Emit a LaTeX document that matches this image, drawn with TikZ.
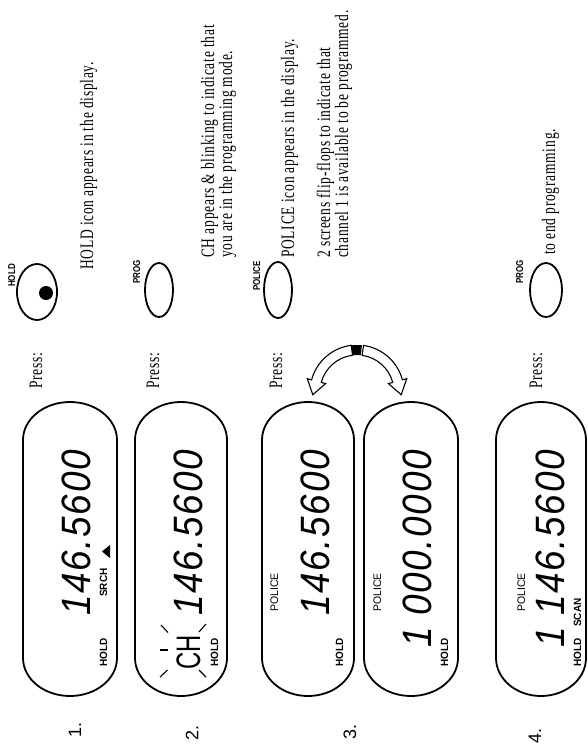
\documentclass[tikz,border=0pt]{standalone}
\usepackage{fontspec}
\setmainfont{Liberation Serif}
\newfontfamily\txtfont[FakeStretch=0.71,LetterSpace=4]{Liberation Serif}
\newfontfamily\lcdfont[FakeStretch=0.95]{Liberation Sans}
\newfontfamily\digfont[FakeStretch=0.9,LetterSpace=4]{Liberation Sans}
\newfontfamily\chfont[FakeStretch=0.7]{Liberation Sans}
\newfontfamily\lblfont[FakeStretch=0.8]{Liberation Sans}
\newfontfamily\numfont{Liberation Sans}
\newcommand\drawpill[2]{%
  \draw[pillline] (#1,-440) arc[start angle=180,end angle=0,x radius={(#2-#1)/2},y radius=38]
    -- (#2,-658) arc[start angle=0,end angle=-180,x radius={(#2-#1)/2},y radius=38] -- cycle;}
\begin{document}
\begin{tikzpicture}[x=1pt,y=1pt,
  pillline/.style={line width=1.8pt},
  btnline/.style={line width=1.8pt},
  arrowline/.style={line width=1.1pt, fill=white},
  blink/.style={line width=1.1pt},
  txt/.style={rotate=90, anchor=base west, inner sep=0, font=\txtfont\fontsize{19}{22}\selectfont},
  big/.style={rotate=90, anchor=base east, inner sep=0, font=\digfont\itshape\fontsize{41}{45}\selectfont},
  bigone/.style={rotate=90, anchor=base west, inner sep=0, font=\digfont\itshape\fontsize{41}{45}\selectfont},
  chtxt/.style={rotate=90, anchor=base west, inner sep=0, font=\chfont\fontsize{34}{36}\selectfont},
  lcdlbl/.style={rotate=90, anchor=base west, inner sep=0, font=\lcdfont\bfseries\fontsize{10.5}{12}\selectfont},
  lcdreg/.style={rotate=90, anchor=base west, inner sep=0, font=\lcdfont\fontsize{11}{12}\selectfont},
  btnlbl/.style={rotate=90, anchor=base west, inner sep=0, font=\lblfont\bfseries\fontsize{10}{12}\selectfont},
  stepnum/.style={rotate=90, inner sep=0, font=\numfont\fontsize{18}{20}\selectfont}]
\fill[white] (0,0) rectangle (588,-752);
\path[use as bounding box] (0,0) rectangle (588,-752);

% ---------- displays ----------
\drawpill{23}{117}
\drawpill{135}{227}
\drawpill{262}{354}
\drawpill{364}{458}
\drawpill{496}{586}

% display 1
\node[big] (d1num) at (90,-450) {146.5600};
\node[lcdlbl] (d1hold) at (107,-667) {HOLD};
\node[lcdlbl] (d1srch) at (107,-597) {SRCH};
\fill (102,-551.5) -- (110,-545) -- (110,-558) -- cycle;

% display 2
\node[big] (d2num) at (202,-450) {146.5600};
\node[chtxt] (d2ch) at (200,-670) {CH};
\node[lcdlbl] (d2hold) at (218,-667) {HOLD};
\draw[blink] (168,-632.5) -- (161,-625);
\draw[blink] (168,-650) -- (160,-650);
\draw[blink] (167.5,-670) -- (160,-677);
\draw[blink] (199,-632) -- (206,-624);
\draw[blink] (199,-670) -- (206,-677);

% display 3a
\node[lcdreg] (d3pol) at (278,-612) {POLICE};
\node[big] (d3num) at (329,-450) {146.5600};
\node[lcdlbl] (d3hold) at (343,-667) {HOLD};

% display 3b
\node[lcdreg] (d4pol) at (381,-612) {POLICE};
\node[big] (d4num) at (431,-450) {000.0000};
\node[bigone] (d4one) at (431,-648) {1};
\node[lcdlbl] (d4hold) at (448,-667) {HOLD};

% display 4
\node[lcdreg] (d5pol) at (525,-612) {POLICE};
\node[big] (d5num) at (564,-450) {146.5600};
\node[bigone] (d5one) at (564,-648) {1};
\node[lcdlbl] (d5scan) at (581,-627) {SCAN};
\node[lcdlbl] (d5hold) at (581,-667) {HOLD};

% ---------- step numbers ----------
\node[stepnum] (n1) at (75,-730) {1.};
\node[stepnum] (n2) at (192,-733) {2.};
\node[stepnum] (n3) at (350,-732) {3.};
\node[stepnum] (n4) at (535,-736) {4.};

% ---------- step 1 ----------
\node[txt] (p1) at (42,-389) {Press:};
\draw[btnline] (37,-292) ellipse[x radius=20,y radius=28];
\fill (46,-293) circle[radius=7];
\node[btnlbl] (b1) at (15,-287) {HOLD};
\node[txt] (t1) at (93,-270) {HOLD icon appears in the display.};

% ---------- step 2 ----------
\node[txt] (p2) at (159,-389) {Press:};
\draw[btnline] (159,-290) ellipse[x radius=14,y radius=27];
\node[btnlbl] (b2) at (140,-284) {PROG};
\node[txt] (t2a) at (214,-258) {CH appears \& blinking to indicate that};
\node[txt] (t2b) at (232,-258) {you are in the programming mode.};

% ---------- step 3 ----------
\node[txt] (p3) at (282,-389) {Press:};
\draw[btnline] (278,-290) ellipse[x radius=14,y radius=28];
\node[btnlbl] (b3) at (260,-291) {POLICE};
\node[txt] (t3a) at (294,-258) {POLICE icon appears in the display.};
\node[txt] (t3b) at (330,-258) {2 screens flip-flops to indicate that};
\node[txt] (t3c) at (348,-258) {channel 1 is available to be programmed.};

% curved double arrow
\coordinate (ac) at (357,-392);
\draw[arrowline] ([shift={(97:47)}]ac) arc[start angle=97,end angle=165,radius=47]
  -- ([shift={(165:51.5)}]ac) -- (312.8,-394.7) -- ([shift={(165:32.5)}]ac)
  -- ([shift={(165:37)}]ac) arc[start angle=165,end angle=97,radius=37] -- cycle;
\draw[arrowline] ([shift={(82:47)}]ac) arc[start angle=82,end angle=15,radius=47]
  -- ([shift={(15:51.5)}]ac) -- (401.2,-394.7) -- ([shift={(15:32.5)}]ac)
  -- ([shift={(15:37)}]ac) arc[start angle=15,end angle=82,radius=37] -- cycle;
\fill ([shift={(84:37)}]ac) arc[start angle=84,end angle=97,radius=37]
  -- ([shift={(97:47)}]ac) arc[start angle=97,end angle=84,radius=47] -- cycle;

% ---------- step 4 ----------
\node[txt] (p4) at (542,-389) {Press:};
\draw[btnline] (546,-290) ellipse[x radius=16,y radius=27];
\node[btnlbl] (b4) at (523,-284) {PROG};
\node[txt] (t4) at (555,-255) {to end programming.};
\end{tikzpicture}
\end{document}
